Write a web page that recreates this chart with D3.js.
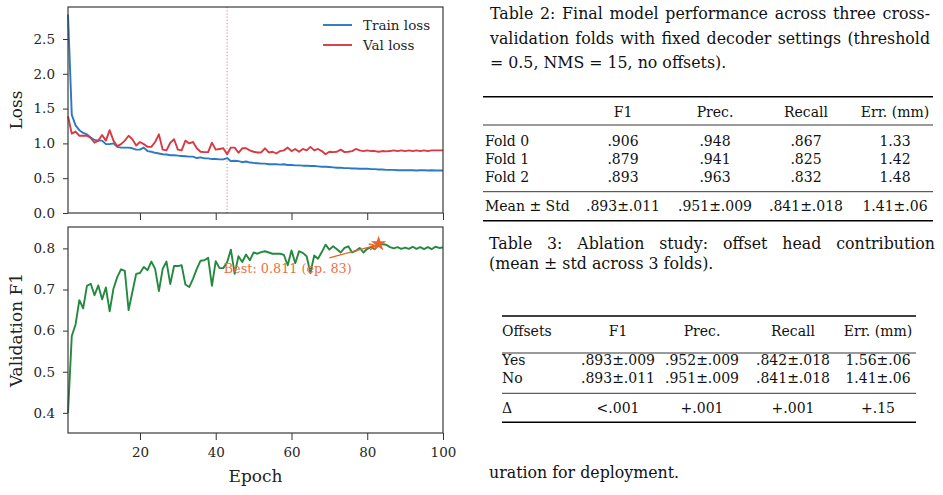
<!DOCTYPE html>
<html>
<head>
<meta charset="utf-8">
<script src="https://cdn.jsdelivr.net/npm/d3@7"></script>
<style>
  body { margin: 0; background: #fff; }
  text { font-family: "DejaVu Serif", serif; }
</style>
</head>
<body>
<svg id="fig"></svg>
<script>
// ---- data ----
var epochs = d3.range(1, 101);

var trainLoss = [
  2.85, 1.41, 1.26, 1.19, 1.15, 1.13, 1.085, 1.05, 1.04, 1.04,
  0.99, 0.99, 1.00, 0.95, 0.94, 0.94, 0.94, 0.93, 0.91, 0.91,
  0.94, 0.89, 0.88, 0.865, 0.855, 0.845, 0.84, 0.83, 0.83, 0.825,
  0.82, 0.815, 0.81, 0.81, 0.79, 0.80, 0.785, 0.785, 0.775, 0.775,
  0.77, 0.77, 0.79, 0.745, 0.75, 0.745, 0.73, 0.74, 0.725, 0.72,
  0.715, 0.71, 0.71, 0.70, 0.70, 0.70, 0.695, 0.70, 0.69, 0.69,
  0.685, 0.685, 0.68, 0.68, 0.675, 0.675, 0.67, 0.665, 0.665, 0.66,
  0.655, 0.65, 0.65, 0.645, 0.645, 0.64, 0.64, 0.635, 0.635, 0.635,
  0.63, 0.63, 0.625, 0.625, 0.62, 0.62, 0.62, 0.615, 0.615, 0.615,
  0.615, 0.615, 0.61, 0.615, 0.615, 0.61, 0.615, 0.61, 0.61, 0.61
];

var valLoss = [
  1.39, 1.14, 1.17, 1.11, 1.11, 1.11, 1.08, 1.01, 1.04, 1.12,
  1.04, 1.19, 1.04, 0.96, 0.99, 1.04, 1.11, 1.06, 0.97, 1.02,
  0.99, 0.95, 0.95, 1.02, 1.13, 0.91, 0.90, 1.01, 1.06, 0.91,
  0.90, 1.04, 1.00, 1.02, 0.93, 0.88, 0.875, 0.875, 1.01, 0.91,
  0.92, 0.93, 0.845, 0.94, 0.94, 0.865, 0.93, 0.93, 0.90, 0.88,
  0.87, 0.87, 0.93, 0.87, 0.88, 0.855, 0.89, 0.90, 0.94, 0.89,
  0.92, 0.88, 0.92, 0.90, 0.95, 0.90, 0.92, 0.89, 0.845, 0.88,
  0.875, 0.88, 0.91, 0.875, 0.88, 0.89, 0.92, 0.90, 0.89, 0.90,
  0.89, 0.89, 0.88, 0.89, 0.885, 0.89, 0.90, 0.89, 0.90, 0.89,
  0.90, 0.89, 0.90, 0.89, 0.90, 0.89, 0.90, 0.90, 0.90, 0.90
];

var valF1 = [
  0.400, 0.587, 0.615, 0.674, 0.654, 0.709, 0.714, 0.686, 0.710, 0.676,
  0.705, 0.647, 0.702, 0.730, 0.749, 0.745, 0.650, 0.694, 0.738, 0.740,
  0.755, 0.747, 0.768, 0.750, 0.696, 0.750, 0.768, 0.713, 0.757, 0.757,
  0.759, 0.712, 0.706, 0.726, 0.750, 0.770, 0.771, 0.777, 0.709, 0.769,
  0.752, 0.752, 0.766, 0.797, 0.738, 0.781, 0.767, 0.785, 0.771, 0.790,
  0.787, 0.791, 0.793, 0.790, 0.787, 0.787, 0.787, 0.784, 0.759, 0.795,
  0.764, 0.793, 0.789, 0.781, 0.740, 0.783, 0.775, 0.791, 0.809, 0.797,
  0.805, 0.798, 0.790, 0.801, 0.805, 0.790, 0.794, 0.801, 0.790, 0.799,
  0.803, 0.798, 0.811, 0.810, 0.809, 0.803, 0.800, 0.803, 0.799, 0.802,
  0.799, 0.804, 0.799, 0.803, 0.798, 0.803, 0.798, 0.804, 0.801, 0.802
];

var bestEpoch = 83, bestF1 = 0.811;
var bestLossEpoch = 43;
var bestLabel = "Best: 0.811 (ep. 83)";

var lossTicks = [0, 0.5, 1.0, 1.5, 2.0, 2.5];
var f1Ticks = [0.4, 0.5, 0.6, 0.7, 0.8];
var epochTicks = [20, 40, 60, 80, 100];
var legendLabels = ["Train loss", "Val loss"];

// tables
var t2Caption = [
  "Table 2: Final model performance across three cross-",
  "validation folds with fixed decoder settings (threshold",
  "= 0.5, NMS = 15, no offsets)."
];
var t2Cols = ["F1", "Prec.", "Recall", "Err. (mm)"];
var t2Rows = [
  ["Fold 0", ".906", ".948", ".867", "1.33"],
  ["Fold 1", ".879", ".941", ".825", "1.42"],
  ["Fold 2", ".893", ".963", ".832", "1.48"]
];
var t2Mean = ["Mean \u00b1 Std", ".893\u00b1.011", ".951\u00b1.009", ".841\u00b1.018", "1.41\u00b1.06"];

var t3Caption = [
  "Table 3: Ablation study: offset head contribution",
  "(mean \u00b1 std across 3 folds)."
];
var t3Cols = ["Offsets", "F1", "Prec.", "Recall", "Err. (mm)"];
var t3Rows = [
  ["Yes", ".893\u00b1.009", ".952\u00b1.009", ".842\u00b1.018", "1.56\u00b1.06"],
  ["No", ".893\u00b1.011", ".951\u00b1.009", ".841\u00b1.018", "1.41\u00b1.06"]
];
var t3Delta = ["\u0394", "<.001", "+.001", "+.001", "+.15"];
var tailText = "uration for deployment.";

// ---- figure ----
var W = 943, H = 495;
var svg = d3.select("#fig").attr("width", W).attr("height", H);
svg.append("rect").attr("width", W).attr("height", H).attr("fill", "#fff");

var plotX = 68, plotW = 375, plotH = 206;
var topY = 7, botY = 227;

var colTrain = "#2a79c4", colVal = "#d83a44", colF1 = "#23893f", colBest = "#e8632b";

var x = d3.scaleLinear().domain([1, 100]).range([0, plotW]);
var yLoss = d3.scaleLinear().domain([0, 2.96]).range([plotH, 0]);
var yF1 = d3.scaleLinear().domain([0.351, 0.852]).range([plotH, 0]);

var gTop = svg.append("g").attr("transform", "translate(" + plotX + "," + topY + ")");
var gBot = svg.append("g").attr("transform", "translate(" + plotX + "," + botY + ")");

function styleAxis(g) {
  g.select(".domain").remove();
  g.selectAll(".tick line").attr("stroke", "#333").attr("stroke-width", 1);
  g.selectAll(".tick text").attr("fill", "#262626").style("font-size", "13.5px")
    .style("font-family", "DejaVu Serif, serif");
}

// top panel axes
gTop.append("g")
  .call(d3.axisLeft(yLoss).tickValues(lossTicks).tickFormat(d3.format(".1f")).tickSize(5).tickPadding(8))
  .call(styleAxis);
gTop.append("g")
  .attr("transform", "translate(0," + plotH + ")")
  .call(d3.axisBottom(x).tickValues(epochTicks).tickFormat("").tickSize(7))
  .call(styleAxis);

// bottom panel axes
gBot.append("g")
  .call(d3.axisLeft(yF1).tickValues(f1Ticks).tickFormat(d3.format(".1f")).tickSize(5).tickPadding(8))
  .call(styleAxis);
gBot.append("g")
  .attr("transform", "translate(0," + plotH + ")")
  .call(d3.axisBottom(x).tickValues(epochTicks).tickSize(7).tickPadding(7.7))
  .call(styleAxis);

// best val-loss marker
gTop.append("line")
  .attr("x1", x(bestLossEpoch)).attr("x2", x(bestLossEpoch))
  .attr("y1", 0).attr("y2", plotH)
  .attr("stroke", "#e07a80").attr("stroke-width", 1)
  .attr("stroke-dasharray", "1.2,2");

var line = function(yScale) {
  return d3.line().x(function(d, i) { return x(epochs[i]); }).y(function(d) { return yScale(d); });
};

gTop.append("path").attr("d", line(yLoss)(trainLoss))
  .attr("fill", "none").attr("stroke", colTrain).attr("stroke-width", 1.9).attr("stroke-linejoin", "round");
gTop.append("path").attr("d", line(yLoss)(valLoss))
  .attr("fill", "none").attr("stroke", colVal).attr("stroke-width", 1.9).attr("stroke-linejoin", "round");

gBot.append("path").attr("d", line(yF1)(valF1))
  .attr("fill", "none").attr("stroke", colF1).attr("stroke-width", 1.9).attr("stroke-linejoin", "round");

// annotation
var arrowFrom = [70, 0.777], arrowTo = [82.2, 0.8075];
var ax1 = x(arrowFrom[0]), ay1 = yF1(arrowFrom[1]), ax2 = x(arrowTo[0]), ay2 = yF1(arrowTo[1]);
var ang = Math.atan2(ay2 - ay1, ax2 - ax1);
gBot.append("path")
  .attr("d", "M" + ax1 + "," + ay1 + "L" + ax2 + "," + ay2 +
    "M" + (ax2 - 7 * Math.cos(ang - 0.45)) + "," + (ay2 - 7 * Math.sin(ang - 0.45)) +
    "L" + ax2 + "," + ay2 +
    "L" + (ax2 - 7 * Math.cos(ang + 0.45)) + "," + (ay2 - 7 * Math.sin(ang + 0.45)))
  .attr("fill", "none").attr("stroke", colBest).attr("stroke-width", 1.3);
gBot.append("path")
  .attr("d", d3.symbol().type(d3.symbolStar).size(75)())
  .attr("transform", "translate(" + x(bestEpoch) + "," + yF1(bestF1) + ")")
  .attr("fill", colBest);
gBot.append("text")
  .attr("x", x(59)).attr("y", yF1(0.741))
  .attr("text-anchor", "middle")
  .attr("fill", "#ee7040")
  .style("font-size", "12.8px")
  .text(bestLabel);

// frames
[gTop, gBot].forEach(function(g) {
  g.append("rect").attr("width", plotW).attr("height", plotH)
    .attr("fill", "none").attr("stroke", "#3a3a3a").attr("stroke-width", 1.2);
});

// legend
var leg = gTop.append("g").attr("transform", "translate(" + (323 - plotX) + "," + (25 - topY) + ")");
[colTrain, colVal].forEach(function(c, i) {
  leg.append("line").attr("x1", 0).attr("x2", 29).attr("y1", i * 20).attr("y2", i * 20)
    .attr("stroke", c).attr("stroke-width", 1.9);
  leg.append("text").attr("x", 40).attr("y", i * 20).attr("dy", "0.35em")
    .attr("fill", "#262626").style("font-size", "13.5px").text(legendLabels[i]);
});

// axis labels
svg.append("text").attr("transform", "translate(21.5," + (topY + plotH / 2) + ") rotate(-90)")
  .attr("text-anchor", "middle").attr("fill", "#222").style("font-size", "17px").text("Loss");
svg.append("text").attr("transform", "translate(21.5," + (botY + plotH / 2) + ") rotate(-90)")
  .attr("text-anchor", "middle").attr("fill", "#222").style("font-size", "17px").text("Validation F1");
svg.append("text").attr("x", plotX + plotW / 2).attr("y", 481.5)
  .attr("text-anchor", "middle").attr("fill", "#222").style("font-size", "17px").text("Epoch");

// ---- tables ----
var tFont = "14px", capFont = "15.8px";
function justify(sel, width) {
  var w = sel.node().getComputedTextLength();
  var n = (sel.text().match(/ /g) || []).length;
  if (n) sel.style("word-spacing", ((width - w) / n) + "px");
}
function caption(lines, x0, baselines, widths) {
  lines.forEach(function(s, i) {
    var t = svg.append("text").attr("x", x0).attr("y", baselines[i])
      .attr("fill", "#111").style("font-size", capFont).text(s);
    if (widths[i]) justify(t, widths[i]);
  });
}
function cell(s, xx, yy, anchor) {
  svg.append("text").attr("x", xx).attr("y", yy).attr("text-anchor", anchor)
    .attr("fill", "#111").style("font-size", tFont).text(s);
}
function rule(x1, x2, yy, w) {
  svg.append("line").attr("x1", x1).attr("x2", x2).attr("y1", yy).attr("y2", yy)
    .attr("stroke", "#000").attr("stroke-width", w);
}

// Table 2
caption(t2Caption, 490, [19.3, 44.3, 67.7], [440, 440, 0]);
var t2Left = 483, t2Right = 933, t2Label = 485, t2Centers = [623, 715, 806, 895];
rule(t2Left, t2Right, 96.7, 1.4);
t2Cols.forEach(function(c, i) { cell(c, t2Centers[i], 116.7, "middle"); });
rule(t2Left, t2Right, 125, 0.8);
t2Rows.forEach(function(r, j) {
  var yy = 145.7 + j * 18;
  cell(r[0], t2Label, yy, "start");
  r.slice(1).forEach(function(v, i) { cell(v, t2Centers[i], yy, "middle"); });
});
rule(t2Left, t2Right, 191.7, 0.8);
cell(t2Mean[0], t2Label, 211, "start");
t2Mean.slice(1).forEach(function(v, i) { cell(v, t2Centers[i], 211, "middle"); });
rule(t2Left, t2Right, 220.7, 1.4);

// Table 3
caption(t3Caption, 489, [249, 269.3], [446, 0]);
var t3Left = 502, t3Right = 916, t3Label = 502, t3Centers = [618, 702, 793, 878];
rule(t3Left, t3Right, 316, 1.4);
cell(t3Cols[0], t3Label, 336, "start");
t3Cols.slice(1).forEach(function(c, i) { cell(c, t3Centers[i], 336, "middle"); });
rule(t3Left, t3Right, 353, 0.8);
t3Rows.forEach(function(r, j) {
  var yy = 364.5 + j * 18.3;
  cell(r[0], t3Label, yy, "start");
  r.slice(1).forEach(function(v, i) { cell(v, t3Centers[i], yy, "middle"); });
});
rule(t3Left, t3Right, 393.3, 0.8);
cell(t3Delta[0], t3Label, 413, "start");
t3Delta.slice(1).forEach(function(v, i) { cell(v, t3Centers[i], 413, "middle"); });
rule(t3Left, t3Right, 422.3, 1.4);

caption([tailText], 489, [478.3], [0]);
</script>
</body>
</html>
